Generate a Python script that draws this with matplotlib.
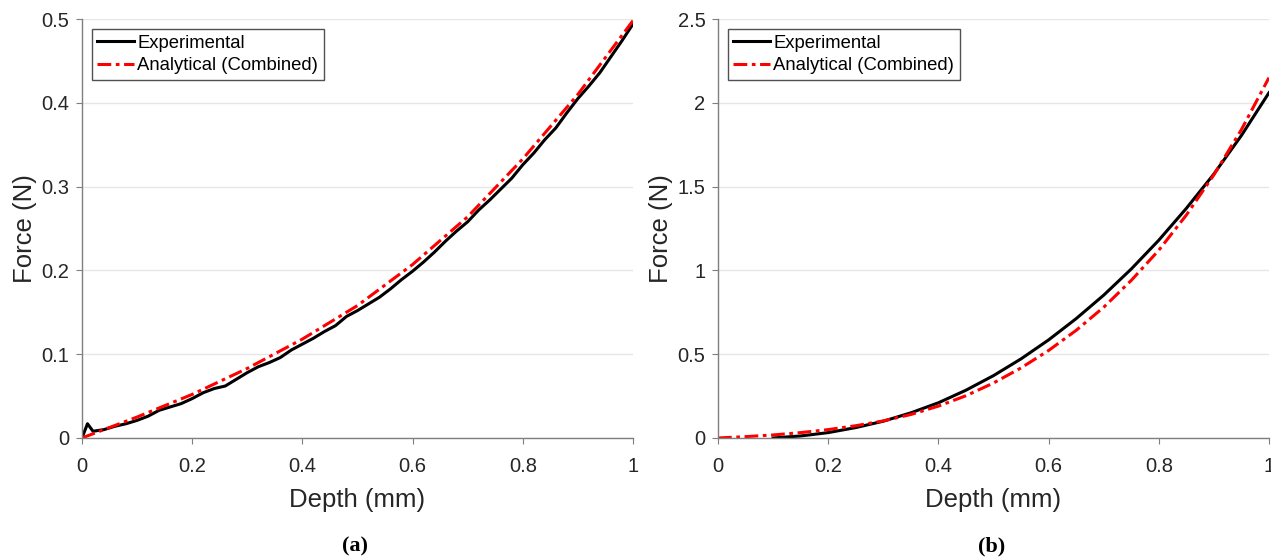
import matplotlib
matplotlib.use("Agg")
import matplotlib.pyplot as plt
from matplotlib.ticker import FuncFormatter

plt.rcParams['font.family'] = ['Liberation Sans', 'DejaVu Sans']

# ---- panel (a) data ----
depth_a_exp = [0.0, 0.01, 0.02, 0.04, 0.06, 0.08, 0.10, 0.12, 0.14, 0.16, 0.18, 0.20,
               0.22, 0.24, 0.26, 0.28, 0.30, 0.32, 0.34, 0.36, 0.38, 0.40, 0.42, 0.44,
               0.46, 0.48, 0.50, 0.52, 0.54, 0.56, 0.58, 0.60, 0.62, 0.64, 0.66, 0.68,
               0.70, 0.72, 0.74, 0.76, 0.78, 0.80, 0.82, 0.84, 0.86, 0.88, 0.90, 0.92,
               0.94, 0.96, 0.98, 1.00]
force_a_exp = [0.0, 0.017, 0.008, 0.010, 0.014, 0.017, 0.021, 0.026, 0.033, 0.037, 0.041, 0.047,
               0.054, 0.059, 0.062, 0.070, 0.078, 0.085, 0.090, 0.096, 0.105, 0.112, 0.119, 0.127,
               0.134, 0.145, 0.152, 0.160, 0.168, 0.178, 0.189, 0.199, 0.210, 0.222, 0.235, 0.247,
               0.258, 0.272, 0.284, 0.297, 0.310, 0.326, 0.340, 0.356, 0.370, 0.388, 0.405, 0.420,
               0.436, 0.455, 0.474, 0.494]

depth_a_ana = [0.0, 0.1, 0.2, 0.3, 0.4, 0.5, 0.6, 0.7, 0.8, 0.9, 1.0]
force_a_ana = [0.0, 0.025, 0.052, 0.083, 0.118, 0.158, 0.207, 0.264, 0.333, 0.410, 0.498]

# ---- panel (b) data ----
depth_b_exp = [0.10, 0.15, 0.20, 0.25, 0.30, 0.35, 0.40, 0.45, 0.50, 0.55, 0.60, 0.65,
               0.70, 0.75, 0.80, 0.85, 0.90, 0.95, 1.00]
force_b_exp = [0.0, 0.012, 0.032, 0.062, 0.100, 0.150, 0.210, 0.285, 0.372, 0.472, 0.585, 0.712,
               0.852, 1.008, 1.180, 1.370, 1.575, 1.805, 2.060]

depth_b_ana = [0.0, 0.05, 0.10, 0.15, 0.20, 0.25, 0.30, 0.35, 0.40, 0.45, 0.50, 0.55,
               0.60, 0.65, 0.70, 0.75, 0.80, 0.85, 0.90, 0.95, 1.00]
force_b_ana = [0.0, 0.008, 0.018, 0.032, 0.050, 0.073, 0.102, 0.140, 0.190, 0.252, 0.328, 0.418,
               0.522, 0.642, 0.780, 0.940, 1.120, 1.330, 1.570, 1.840, 2.150]

gray = '#262626'

fig = plt.figure(figsize=(12.71, 5.59), dpi=100)
ax_a = fig.add_axes([0.0645, 0.2165, 0.4335, 0.7495])
ax_b = fig.add_axes([0.5649, 0.2165, 0.4335, 0.7495])


def style(ax, ymax, ystep):
    ax.set_xlim(0, 1)
    ax.set_ylim(0, ymax)
    ax.set_xticks([0, 0.2, 0.4, 0.6, 0.8, 1.0])
    ax.set_yticks([i * ystep for i in range(int(round(ymax / ystep)) + 1)])
    fmt = FuncFormatter(lambda v, p: ('%g' % round(v, 3)))
    ax.xaxis.set_major_formatter(fmt)
    ax.yaxis.set_major_formatter(fmt)
    ax.grid(axis='y', color='#e6e6e6', linewidth=1)
    ax.set_axisbelow(True)
    for s in ['top', 'right']:
        ax.spines[s].set_visible(False)
    for s in ['left', 'bottom']:
        ax.spines[s].set_color('#7f7f7f')
        ax.spines[s].set_linewidth(1)
    ax.tick_params(direction='out', length=4, color='#7f7f7f', labelsize=14.5,
                   labelcolor=gray)
    ax.tick_params(axis='x', pad=10)
    ax.tick_params(axis='y', pad=5)
    ax.set_xlabel('Depth (mm)', fontsize=18.5, color=gray, labelpad=8)
    ax.set_ylabel('Force (N)', fontsize=18.5, color=gray, labelpad=3)
    leg = ax.legend(loc='upper left', bbox_to_anchor=(0.018, 0.976), fontsize=13.3,
                    frameon=True, fancybox=False, edgecolor=gray, handlelength=2.0,
                    handletextpad=0.15, borderpad=0.3, labelspacing=0.3,
                    borderaxespad=0)
    leg.get_frame().set_linewidth(1)


dashdot = (0, (4.5, 1.5, 1.2, 1.5))

ax_a.plot(depth_a_exp, force_a_exp, color='black', lw=2.2, label='Experimental')
ax_a.plot(depth_a_ana, force_a_ana, color='red', lw=2.2, linestyle=dashdot,
          label='Analytical (Combined)')
style(ax_a, 0.5, 0.1)

ax_b.plot(depth_b_exp, force_b_exp, color='black', lw=2.2, label='Experimental')
ax_b.plot(depth_b_ana, force_b_ana, color='red', lw=2.2, linestyle=dashdot,
          label='Analytical (Combined)')
style(ax_b, 2.5, 0.5)

fig.text(0.2795, 0.005, '(a)', fontsize=16, fontweight='bold',
         family='Liberation Serif', ha='center', va='bottom')
fig.text(0.7803, 0.005, '(b)', fontsize=16, fontweight='bold',
         family='Liberation Serif', ha='center', va='bottom')

fig.savefig('out.png', dpi=100)
